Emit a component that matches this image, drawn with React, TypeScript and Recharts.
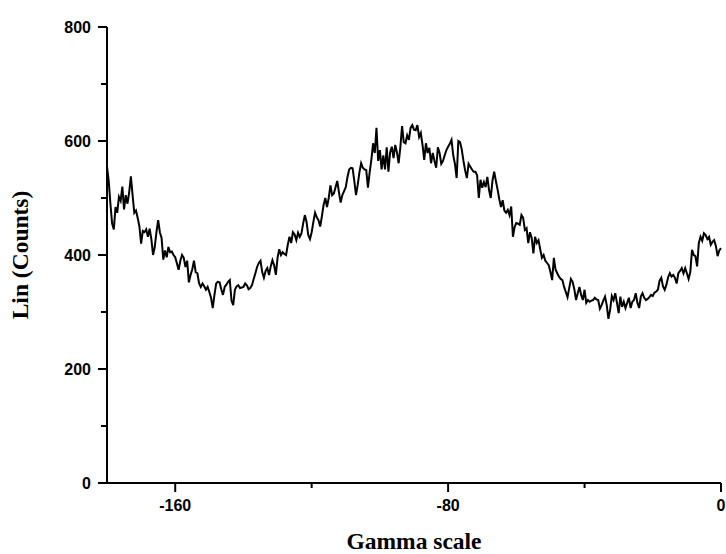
import React from 'react';
import { LineChart, Line, XAxis, YAxis, Label } from 'recharts';

// Gamma scan from -180 to 0, one reading every 0.5
const GAMMA_START = -180;
const GAMMA_STEP = 0.5;

const counts = [
  555, 530, 490, 455, 445, 484, 474, 502, 495, 520, 480, 505, 490, 510, 538, 505, 474, 478, 465, 450,
  420, 442, 440, 445, 432, 446, 428, 400, 414, 440, 461, 440, 430, 392, 408, 396, 414, 405, 406, 400,
  396, 385, 374, 390, 400, 395, 379, 390, 352, 365, 375, 390, 370, 368, 350, 344, 350, 345, 339, 344,
  335, 325, 307, 330, 350, 353, 352, 340, 330, 344, 348, 353, 356, 320, 312, 339, 345, 347, 342, 343,
  344, 350, 347, 340, 342, 347, 358, 368, 379, 386, 390, 370, 360, 372, 377, 365, 380, 391, 382, 365,
  395, 410, 400, 405, 402, 400, 418, 432, 421, 440, 436, 426, 439, 432, 438, 455, 470, 458, 435, 428,
  440, 458, 474, 466, 461, 450, 468, 488, 500, 484, 500, 522, 505, 508, 519, 530, 510, 492, 505, 512,
  519, 537, 550, 553, 552, 530, 505, 523, 545, 561, 553, 550, 549, 518, 545, 567, 596, 579, 623, 565,
  584, 550, 575, 550, 589, 546, 580, 590, 570, 593, 580, 561, 589, 626, 598, 596, 610, 602, 623, 628,
  620, 619, 628, 607, 614, 593, 567, 596, 579, 588, 561, 579, 565, 553, 589, 579, 560, 565, 575, 584,
  590, 595, 602, 575, 560, 535, 600, 598, 585, 565, 548, 535, 560, 555, 550, 546, 546, 540, 500, 532,
  518, 528, 519, 537, 514, 500, 530, 546, 530, 515, 498, 484, 496, 478, 474, 479, 470, 485, 432, 449,
  456, 455, 453, 470, 465, 444, 447, 421, 440, 430, 403, 432, 421, 426, 410, 395, 400, 390, 386, 382,
  370, 356, 395, 374, 368, 362, 358, 356, 344, 335, 326, 342, 358, 353, 340, 321, 333, 344, 330, 321,
  339, 316, 321, 318, 320, 321, 325, 322, 321, 306, 312, 320, 327, 312, 288, 304, 328, 321, 333, 316,
  298, 327, 309, 318, 307, 316, 325, 307, 318, 321, 333, 316, 307, 327, 333, 325, 321, 323, 326, 330,
  328, 334, 336, 339, 355, 360, 345, 339, 348, 361, 368, 362, 365, 360, 350, 368, 372, 377, 368, 377,
  368, 358, 370, 409, 400, 398, 380, 421, 432, 425, 438, 435, 428, 432, 418, 423, 426, 416, 398, 408,
  412,
];

const xTicks = [-160, -120, -80, -40, 0];
const xLabelled = [-160, -80, 0];
const yTicks = [0, 100, 200, 300, 400, 500, 600, 700, 800];
const yLabelled = [0, 200, 400, 600, 800];

const data = counts.map((c, i) => ({ gamma: GAMMA_START + i * GAMMA_STEP, counts: c }));

const tickFont = { fontFamily: '"Liberation Sans", Arial, sans-serif', fontWeight: 700, fontSize: 16 };
const titleFont = { fontFamily: '"Liberation Serif", "Times New Roman", serif', fontWeight: 700, fontSize: 23.5 };

const XTick = (props: any) => {
  const { x, y, payload } = props;
  const major = xLabelled.includes(payload.value);
  return (
    <g>
      <line x1={x} y1={y} x2={x} y2={y + (major ? 9 : 5)} stroke="#000" strokeWidth={2} />
      {major && (
        <text x={x} y={y + 28} textAnchor="middle" fill="#000" style={tickFont}>
          {payload.value}
        </text>
      )}
    </g>
  );
};

const YTick = (props: any) => {
  const { x, y, payload } = props;
  const major = yLabelled.includes(payload.value);
  return (
    <g>
      <line x1={x - (major ? 9 : 6)} y1={y} x2={x} y2={y} stroke="#000" strokeWidth={2} />
      {major && (
        <text x={x - 16} y={y + 6} textAnchor="end" fill="#000" style={tickFont}>
          {payload.value}
        </text>
      )}
    </g>
  );
};

export default function App() {
  return (
    <div style={{ position: 'absolute', left: 0, top: 0, width: 726, height: 554, background: '#fff' }}>
      <LineChart width={726} height={554} data={data} margin={{ top: 27, right: 5, bottom: 0, left: 0 }}>
        <XAxis
          dataKey="gamma"
          type="number"
          domain={[-180, 0]}
          ticks={xTicks}
          height={71}
          tickSize={0}
          tickMargin={0}
          tickLine={false}
          axisLine={{ stroke: '#000', strokeWidth: 2 }}
          tick={<XTick />}
          interval={0}
        >
          <Label
            content={({ viewBox }: any) => (
              <text
                x={viewBox.x + viewBox.width / 2}
                y={viewBox.y + viewBox.height - 5}
                textAnchor="middle"
                fill="#000"
                style={titleFont}
              >
                Gamma scale
              </text>
            )}
          />
        </XAxis>
        <YAxis
          type="number"
          domain={[0, 800]}
          ticks={yTicks}
          width={107}
          tickSize={0}
          tickMargin={0}
          tickLine={false}
          axisLine={{ stroke: '#000', strokeWidth: 2 }}
          tick={<YTick />}
          interval={0}
        >
          <Label
            content={({ viewBox }: any) => {
              const cy = viewBox.y + viewBox.height / 2;
              return (
                <text
                  x={28}
                  y={cy}
                  transform={`rotate(-90, 28, ${cy})`}
                  textAnchor="middle"
                  fill="#000"
                  style={titleFont}
                >
                  Lin (Counts)
                </text>
              );
            }}
          />
        </YAxis>
        <Line
          type="linear"
          dataKey="counts"
          stroke="#000"
          strokeWidth={2}
          dot={false}
          isAnimationActive={false}
        />
      </LineChart>
    </div>
  );
}
